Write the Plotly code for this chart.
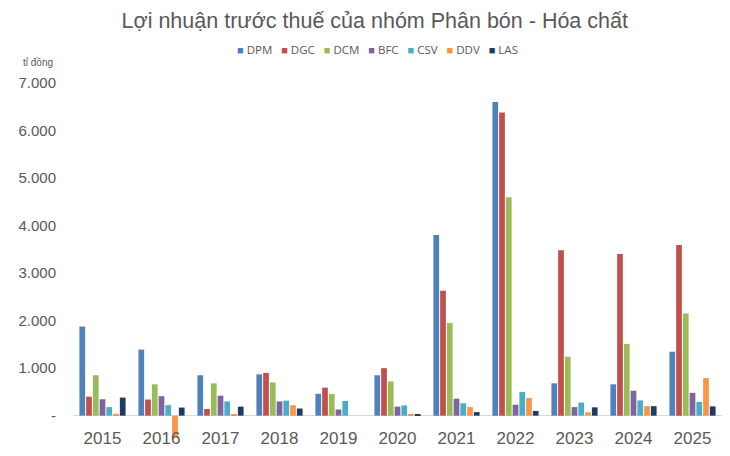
import plotly.graph_objects as go

years = [str(y) for y in range(2015, 2026)]

DPM = [1875, 1390, 850, 870, 460, 850, 3800, 6600, 680, 660, 1345]
DGC = [400, 340, 140, 900, 590, 1000, 2630, 6380, 3480, 3400, 3590]
DCM = [850, 660, 680, 700, 455, 720, 1950, 4595, 1240, 1510, 2150]
BFC = [345, 410, 420, 300, 130, 190, 357, 230, 180, 525, 480]
CSV = [180, 220, 300, 315, 310, 215, 260, 500, 275, 320, 290]
DDV = [40, -450, 15, 220, 0, 25, 180, 370, 70, 200, 790]
LAS = [380, 170, 190, 150, 0, 20, 75, 100, 175, 200, 195]

series = [("DPM", DPM), ("DGC", DGC), ("DCM", DCM), ("BFC", BFC),
          ("CSV", CSV), ("DDV", DDV), ("LAS", LAS)]
colors = ["#4F81BD", "#C0504D", "#9BBB59", "#8064A2",
          "#4BACC6", "#F79646", "#1F3B63"]

ytickvals = [0, 1000, 2000, 3000, 4000, 5000, 6000, 7000]
yticktext = ["-", "1.000", "2.000", "3.000", "4.000", "5.000", "6.000", "7.000"]

fig = go.Figure()
for (name, vals), col in zip(series, colors):
    fig.add_trace(go.Bar(x=years, y=vals, name=name, marker_color=col,
                         marker_line_width=0))

# compact Excel-style legend: small squares with the series names
legend_text = "&nbsp;&nbsp;&nbsp;".join(
    "<span style='color:%s;font-size:11px'>■</span>&nbsp;%s" % (col, name)
    for (name, _), col in zip(series, colors))

# page body has an 8px margin, so the figure is 8px smaller than the window
fig.update_layout(
    width=722, height=448,
    barmode="group", bargap=0.2, bargroupgap=0.15,
    plot_bgcolor="white", paper_bgcolor="white",
    margin=dict(l=65, r=8, t=75, b=18, autoexpand=False),
    font=dict(family="Liberation Sans, Arial", color="#595959"),
    title=dict(text="Lợi nhuận trước thuế của nhóm Phân bón - Hóa chất",
               x=0.508, xanchor="center", y=0.973, yanchor="middle",
               font=dict(size=21.5, color="#595959")),
    showlegend=False,
)
fig.update_xaxes(showgrid=False, showline=False, ticks="",
                 tickfont=dict(size=17, color="#595959"),
                 ticklabelstandoff=-12, automargin=False)
fig.update_yaxes(range=[-470, 7000], tickvals=ytickvals, ticktext=yticktext,
                 showgrid=False, zeroline=True, zerolinecolor="#D9D9D9",
                 zerolinewidth=1, showline=False, ticks="",
                 tickfont=dict(size=15, color="#595959"),
                 ticklabelstandoff=16, automargin=False)
fig.add_annotation(text=legend_text, xref="paper", yref="paper",
                   x=0.469, y=1.093, xanchor="center", yanchor="middle",
                   showarrow=False,
                   font=dict(family="Open Sans", size=11.5, color="#595959"))
fig.add_annotation(text="tỉ đồng", xref="paper", yref="paper",
                   x=-0.08, y=1.059, xanchor="left", yanchor="middle",
                   showarrow=False, font=dict(size=10, color="#595959"))

fig.write_html("out.html")
